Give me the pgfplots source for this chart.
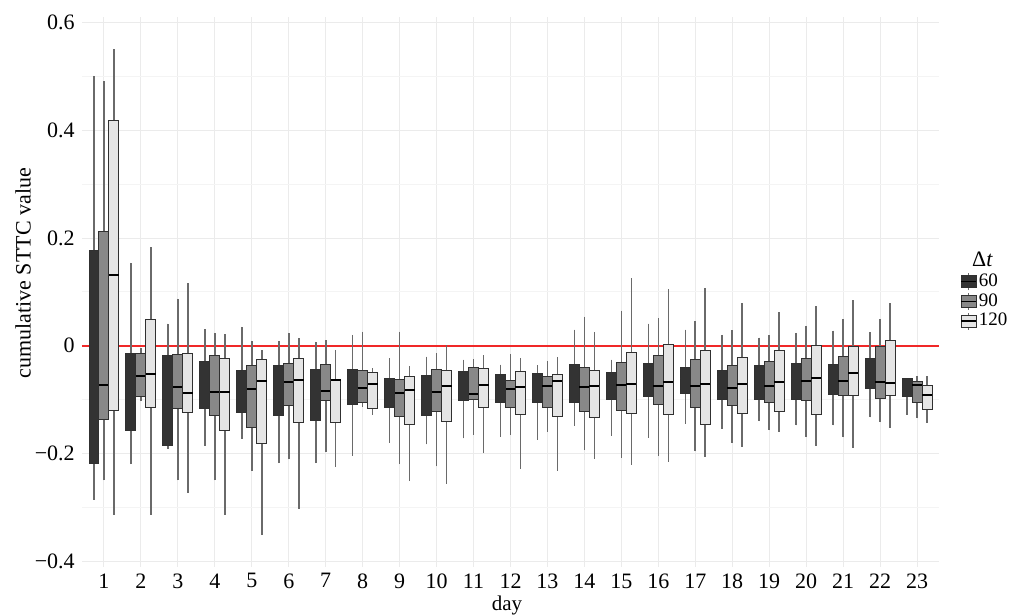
\documentclass[border=0pt]{standalone}
\usepackage{fontspec}
\setmainfont{Liberation Serif}
\usepackage{pgfplots}
\pgfplotsset{compat=1.18}
\usepgfplotslibrary{statistics}

\definecolor{c60}{HTML}{333333}
\definecolor{c90}{HTML}{888888}
\definecolor{c120}{HTML}{E5E5E5}
\definecolor{cedge}{HTML}{303030}
\definecolor{cwhisk}{HTML}{6A6A6A}
\definecolor{cred}{RGB}{240,40,40}
\definecolor{cgrid}{HTML}{EBEBEB}
\definecolor{cgridm}{HTML}{F4F4F4}

\pgfplotsset{
  bx/.style={solid, draw=cedge, line width=0.5pt,
    boxplot/draw direction=y,
    boxplot/box extend=0.27, boxplot/whisker extend=0,
    boxplot/every whisker/.style={draw=cwhisk, line width=0.8pt},
    boxplot/every median/.style={draw=black, line width=1pt}},
  leg/.style={legend image code/.code={
    \draw[cwhisk, line width=0.6pt] (3.75pt,-4.25pt) -- (3.75pt,4.25pt);
    \draw[draw=cedge, fill=#1, line width=0.4pt] (0pt,-3pt) rectangle (7.5pt,3pt);
    \draw[black, line width=0.6pt] (0pt,0pt) -- (7.5pt,0pt);}},
}

% day, lower whisker, lower quartile, median, upper quartile, upper whisker
\newcommand\ba[6]{\addplot[bx,fill=c60,boxplot/every median/.style={draw=c60},
  boxplot prepared={draw position=#1-0.27,
  lower whisker=#2,lower quartile=#3,median=#4,upper quartile=#5,upper whisker=#6}] coordinates {};}
\newcommand\bb[6]{\addplot[bx,fill=c90,boxplot prepared={draw position=#1,
  lower whisker=#2,lower quartile=#3,median=#4,upper quartile=#5,upper whisker=#6}] coordinates {};}
\newcommand\bc[6]{\addplot[bx,fill=c120,boxplot prepared={draw position=#1+0.27,
  lower whisker=#2,lower quartile=#3,median=#4,upper quartile=#5,upper whisker=#6}] coordinates {};}

\begin{document}
\begin{tikzpicture}
\begin{axis}[
  name=ax, at={(0,0)}, anchor=south west,
  scale only axis, width=428.7pt, height=274.6pt,
  xmin=0.4, xmax=23.6, ymin=-0.41, ymax=0.61,
  clip=false,
  xtick={1,...,23},
  ytick={-0.4,-0.2,0,0.2,0.4,0.6},
  yticklabels={−0.4,−0.2,0,0.2,0.4,0.6},
  minor ytick={-0.3,-0.1,0.1,0.3,0.5},
  extra y ticks={0}, extra y tick labels={},
  extra y tick style={ymajorgrids=true,
    major grid style={draw=cred, line width=0.8pt}},
  /pgf/number format/assume math mode=true,
  xmajorgrids, ymajorgrids, yminorgrids,
  major grid style={draw=cgrid, line width=0.5pt},
  minor grid style={draw=cgridm, line width=0.5pt},
  axis line style={draw=none},
  major tick length=0pt, minor tick length=0pt,
  tick label style={font=\fontsize{11}{13}\selectfont},
  xlabel={day}, ylabel={cumulative STTC value},
  xlabel style={at={(axis description cs:0.496,-0.0703)}, anchor=center,
    font=\fontsize{10.5}{12}\selectfont},
  ylabel style={at={(axis description cs:-0.0686,0.534)}, anchor=center,
    font=\fontsize{11}{13}\selectfont},
  legend style={draw=none, fill=none, inner sep=0pt,
    at={(axis description cs:1.0245,0.537)}, anchor=north west,
    font=\fontsize{9.5}{11}\selectfont, row sep=0pt,
    nodes={inner sep=1pt}},
  legend cell align=left,
]
\addlegendimage{leg=c60}\addlegendentry{60}
\addlegendimage{leg=c90}\addlegendentry{90}
\addlegendimage{leg=c120}\addlegendentry{120}

\ba{1}{-0.286}{-0.219}{-0.030}{0.177}{0.501}
\bb{1}{-0.250}{-0.137}{-0.072}{0.213}{0.491}
\bc{1}{-0.314}{-0.121}{0.132}{0.418}{0.552}
\ba{2}{-0.220}{-0.157}{-0.060}{-0.014}{0.154}
\bb{2}{-0.103}{-0.094}{-0.057}{-0.015}{-0.005}
\bc{2}{-0.314}{-0.114}{-0.053}{0.049}{0.184}
\ba{3}{-0.191}{-0.185}{-0.080}{-0.018}{0.041}
\bb{3}{-0.250}{-0.117}{-0.076}{-0.017}{0.087}
\bc{3}{-0.274}{-0.124}{-0.088}{-0.015}{0.116}
\ba{4}{-0.186}{-0.117}{-0.070}{-0.030}{0.031}
\bb{4}{-0.250}{-0.130}{-0.086}{-0.018}{0.024}
\bc{4}{-0.314}{-0.158}{-0.086}{-0.024}{0.021}
\ba{5}{-0.173}{-0.124}{-0.080}{-0.046}{0.035}
\bb{5}{-0.232}{-0.151}{-0.080}{-0.037}{0.009}
\bc{5}{-0.352}{-0.182}{-0.065}{-0.026}{-0.008}
\ba{6}{-0.218}{-0.130}{-0.070}{-0.036}{0.008}
\bb{6}{-0.211}{-0.111}{-0.067}{-0.033}{0.024}
\bc{6}{-0.303}{-0.143}{-0.063}{-0.023}{0.015}
\ba{7}{-0.218}{-0.139}{-0.080}{-0.045}{0.007}
\bb{7}{-0.197}{-0.101}{-0.084}{-0.035}{0.010}
\bc{7}{-0.226}{-0.142}{-0.064}{-0.062}{-0.007}
\ba{8}{-0.204}{-0.110}{-0.070}{-0.045}{0.020}
\bb{8}{-0.114}{-0.105}{-0.079}{-0.046}{0.026}
\bc{8}{-0.129}{-0.116}{-0.071}{-0.049}{-0.041}
\ba{9}{-0.180}{-0.114}{-0.090}{-0.061}{-0.023}
\bb{9}{-0.220}{-0.131}{-0.087}{-0.063}{0.026}
\bc{9}{-0.252}{-0.146}{-0.082}{-0.057}{-0.037}
\ba{10}{-0.183}{-0.130}{-0.090}{-0.055}{-0.020}
\bb{10}{-0.224}{-0.122}{-0.086}{-0.045}{-0.014}
\bc{10}{-0.256}{-0.140}{-0.075}{-0.046}{0.001}
\ba{11}{-0.172}{-0.101}{-0.070}{-0.048}{-0.026}
\bb{11}{-0.165}{-0.100}{-0.089}{-0.041}{-0.025}
\bc{11}{-0.200}{-0.114}{-0.073}{-0.042}{-0.017}
\ba{12}{-0.169}{-0.106}{-0.080}{-0.054}{-0.035}
\bb{12}{-0.166}{-0.114}{-0.080}{-0.065}{-0.015}
\bc{12}{-0.229}{-0.128}{-0.077}{-0.048}{-0.022}
\ba{13}{-0.175}{-0.105}{-0.080}{-0.052}{-0.036}
\bb{13}{-0.160}{-0.115}{-0.075}{-0.057}{-0.028}
\bc{13}{-0.232}{-0.131}{-0.066}{-0.054}{-0.020}
\ba{14}{-0.149}{-0.105}{-0.070}{-0.034}{0.030}
\bb{14}{-0.194}{-0.122}{-0.077}{-0.040}{0.054}
\bc{14}{-0.210}{-0.134}{-0.075}{-0.046}{0.026}
\ba{15}{-0.167}{-0.100}{-0.070}{-0.049}{-0.026}
\bb{15}{-0.208}{-0.120}{-0.073}{-0.032}{0.065}
\bc{15}{-0.221}{-0.125}{-0.071}{-0.012}{0.126}
\ba{16}{-0.171}{-0.094}{-0.060}{-0.033}{0.041}
\bb{16}{-0.205}{-0.109}{-0.075}{-0.018}{0.051}
\bc{16}{-0.216}{-0.127}{-0.068}{0.002}{0.106}
\ba{17}{-0.145}{-0.088}{-0.060}{-0.040}{0.030}
\bb{17}{-0.196}{-0.114}{-0.074}{-0.025}{0.046}
\bc{17}{-0.206}{-0.146}{-0.071}{-0.009}{0.108}
\ba{18}{-0.154}{-0.100}{-0.070}{-0.046}{0.020}
\bb{18}{-0.181}{-0.111}{-0.079}{-0.036}{0.029}
\bc{18}{-0.188}{-0.126}{-0.071}{-0.022}{0.080}
\ba{19}{-0.140}{-0.100}{-0.070}{-0.037}{0.015}
\bb{19}{-0.157}{-0.105}{-0.074}{-0.029}{0.020}
\bc{19}{-0.161}{-0.122}{-0.068}{-0.008}{0.063}
\ba{20}{-0.148}{-0.100}{-0.060}{-0.033}{0.024}
\bb{20}{-0.170}{-0.101}{-0.065}{-0.023}{0.037}
\bc{20}{-0.186}{-0.127}{-0.059}{0.001}{0.073}
\ba{21}{-0.148}{-0.090}{-0.060}{-0.035}{0.028}
\bb{21}{-0.170}{-0.093}{-0.066}{-0.020}{0.049}
\bc{21}{-0.189}{-0.092}{-0.050}{-0.001}{0.085}
\ba{22}{-0.133}{-0.079}{-0.050}{-0.023}{0.025}
\bb{22}{-0.142}{-0.098}{-0.068}{-0.001}{0.049}
\bc{22}{-0.152}{-0.093}{-0.070}{0.009}{0.079}
\ba{23}{-0.128}{-0.095}{-0.080}{-0.061}{-0.061}
\bb{23}{-0.135}{-0.105}{-0.073}{-0.066}{-0.057}
\bc{23}{-0.143}{-0.118}{-0.092}{-0.074}{-0.057}

\node[anchor=west, inner sep=0pt, font=\fontsize{11}{13}\selectfont]
  at (axis description cs:1.038,0.559) {Δ\textit{t}};
\end{axis}
\pgfresetboundingbox
\useasboundingbox (-40.9pt,-24.3pt) rectangle (464.6pt,283.25pt);
\end{tikzpicture}
\end{document}
